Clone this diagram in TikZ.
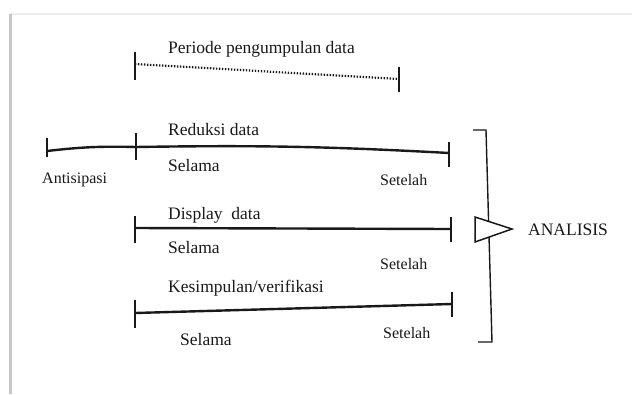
\documentclass[tikz,border=0pt]{standalone}
\usepackage{fontspec}
\setmainfont{Liberation Serif}
\usepackage{tikz}

\tikzset{
	lbl/.style={anchor=base west, inner sep=0pt, text=black!90, font=\fontsize{17.5}{20}\selectfont},
	small lbl/.style={lbl, font=\fontsize{16}{18}\selectfont},
	timeline/.style={line width=2.4pt, black!90},
	tickmark/.style={line width=2pt, black!90},
}

\begin{document}
\begin{tikzpicture}[x=1pt, y=-1pt]
			\useasboundingbox (0,0) rectangle (632,394);
			% scanned page edge
			\draw[gray!15, line width=1.5pt] (10,14) -- (632,14);
			\draw[gray!45, line width=3pt] (10,14) -- (10,394);
			
			% periode pengumpulan data
			\node[lbl] (periode) at (168,53) {Periode pengumpulan data};
			\coordinate (p1) at (135,64);
			\coordinate (p2) at (399,79);
			\draw[tickmark] (135,52) -- (135,80);
			\draw[tickmark] (399,67) -- (399,92);
			\draw[line width=2.2pt, black!90, dash pattern=on 1.4pt off 1.6pt] (p1) -- (p2);
			
			% reduksi data
			\node[lbl] (reduksi) at (168,135) {Reduksi data};
			\coordinate (r0) at (47,151);
			\coordinate (r1) at (136,147);
			\coordinate (r2) at (449,153);
			\draw[timeline] (r0) to[bend left=4] (r1) to[bend left=2] (r2);
			\draw[tickmark] (47,138) -- (47,157);
			\draw[tickmark] (136,133) -- (136,160);
			\draw[tickmark] (449,142) -- (449,167);
			\node[small lbl] (antisipasi) at (42,183) {Antisipasi};
			\node[lbl] (selama1) at (168,171) {Selama};
			\node[small lbl] (setelah1) at (380,185) {Setelah};
			
			% display data
			\node[lbl] (display) at (168,219) {Display\ \ data};
			\coordinate (d1) at (135,228);
			\coordinate (d2) at (451,229);
			\draw[timeline] (d1) -- (d2);
			\draw[tickmark] (135,216) -- (135,243);
			\draw[tickmark] (451,217) -- (451,242);
			\node[lbl] (selama2) at (168,253) {Selama};
			\node[small lbl] (setelah2) at (380,269) {Setelah};
			
			% kesimpulan/verifikasi
			\node[lbl] (kesimpulan) at (168,292) {Kesimpulan/verifikasi};
			\coordinate (k1) at (135,313);
			\coordinate (k2) at (452,304);
			\draw[timeline] (k1) -- (k2);
			\draw[tickmark] (135,300) -- (135,328);
			\draw[tickmark] (452,292) -- (452,317);
			\node[lbl] (selama3) at (180,345) {Selama};
			\node[small lbl] (setelah3) at (383,338) {Setelah};
			
			% analisis
			\coordinate (b1) at (473,130);
			\coordinate (b2) at (486,130);
			\coordinate (b3) at (492,342);
			\coordinate (b4) at (478,342);
			\draw[line width=1.4pt, black!90] (b1) -- (b2) -- (b3) -- (b4);
			\draw[line width=1.5pt, black!90, fill=white] (475,217) -- (512,229) -- (475,242) -- cycle;
			\node[lbl] (analisis) at (528,235) {ANALISIS};
		\end{tikzpicture}
\end{document}
